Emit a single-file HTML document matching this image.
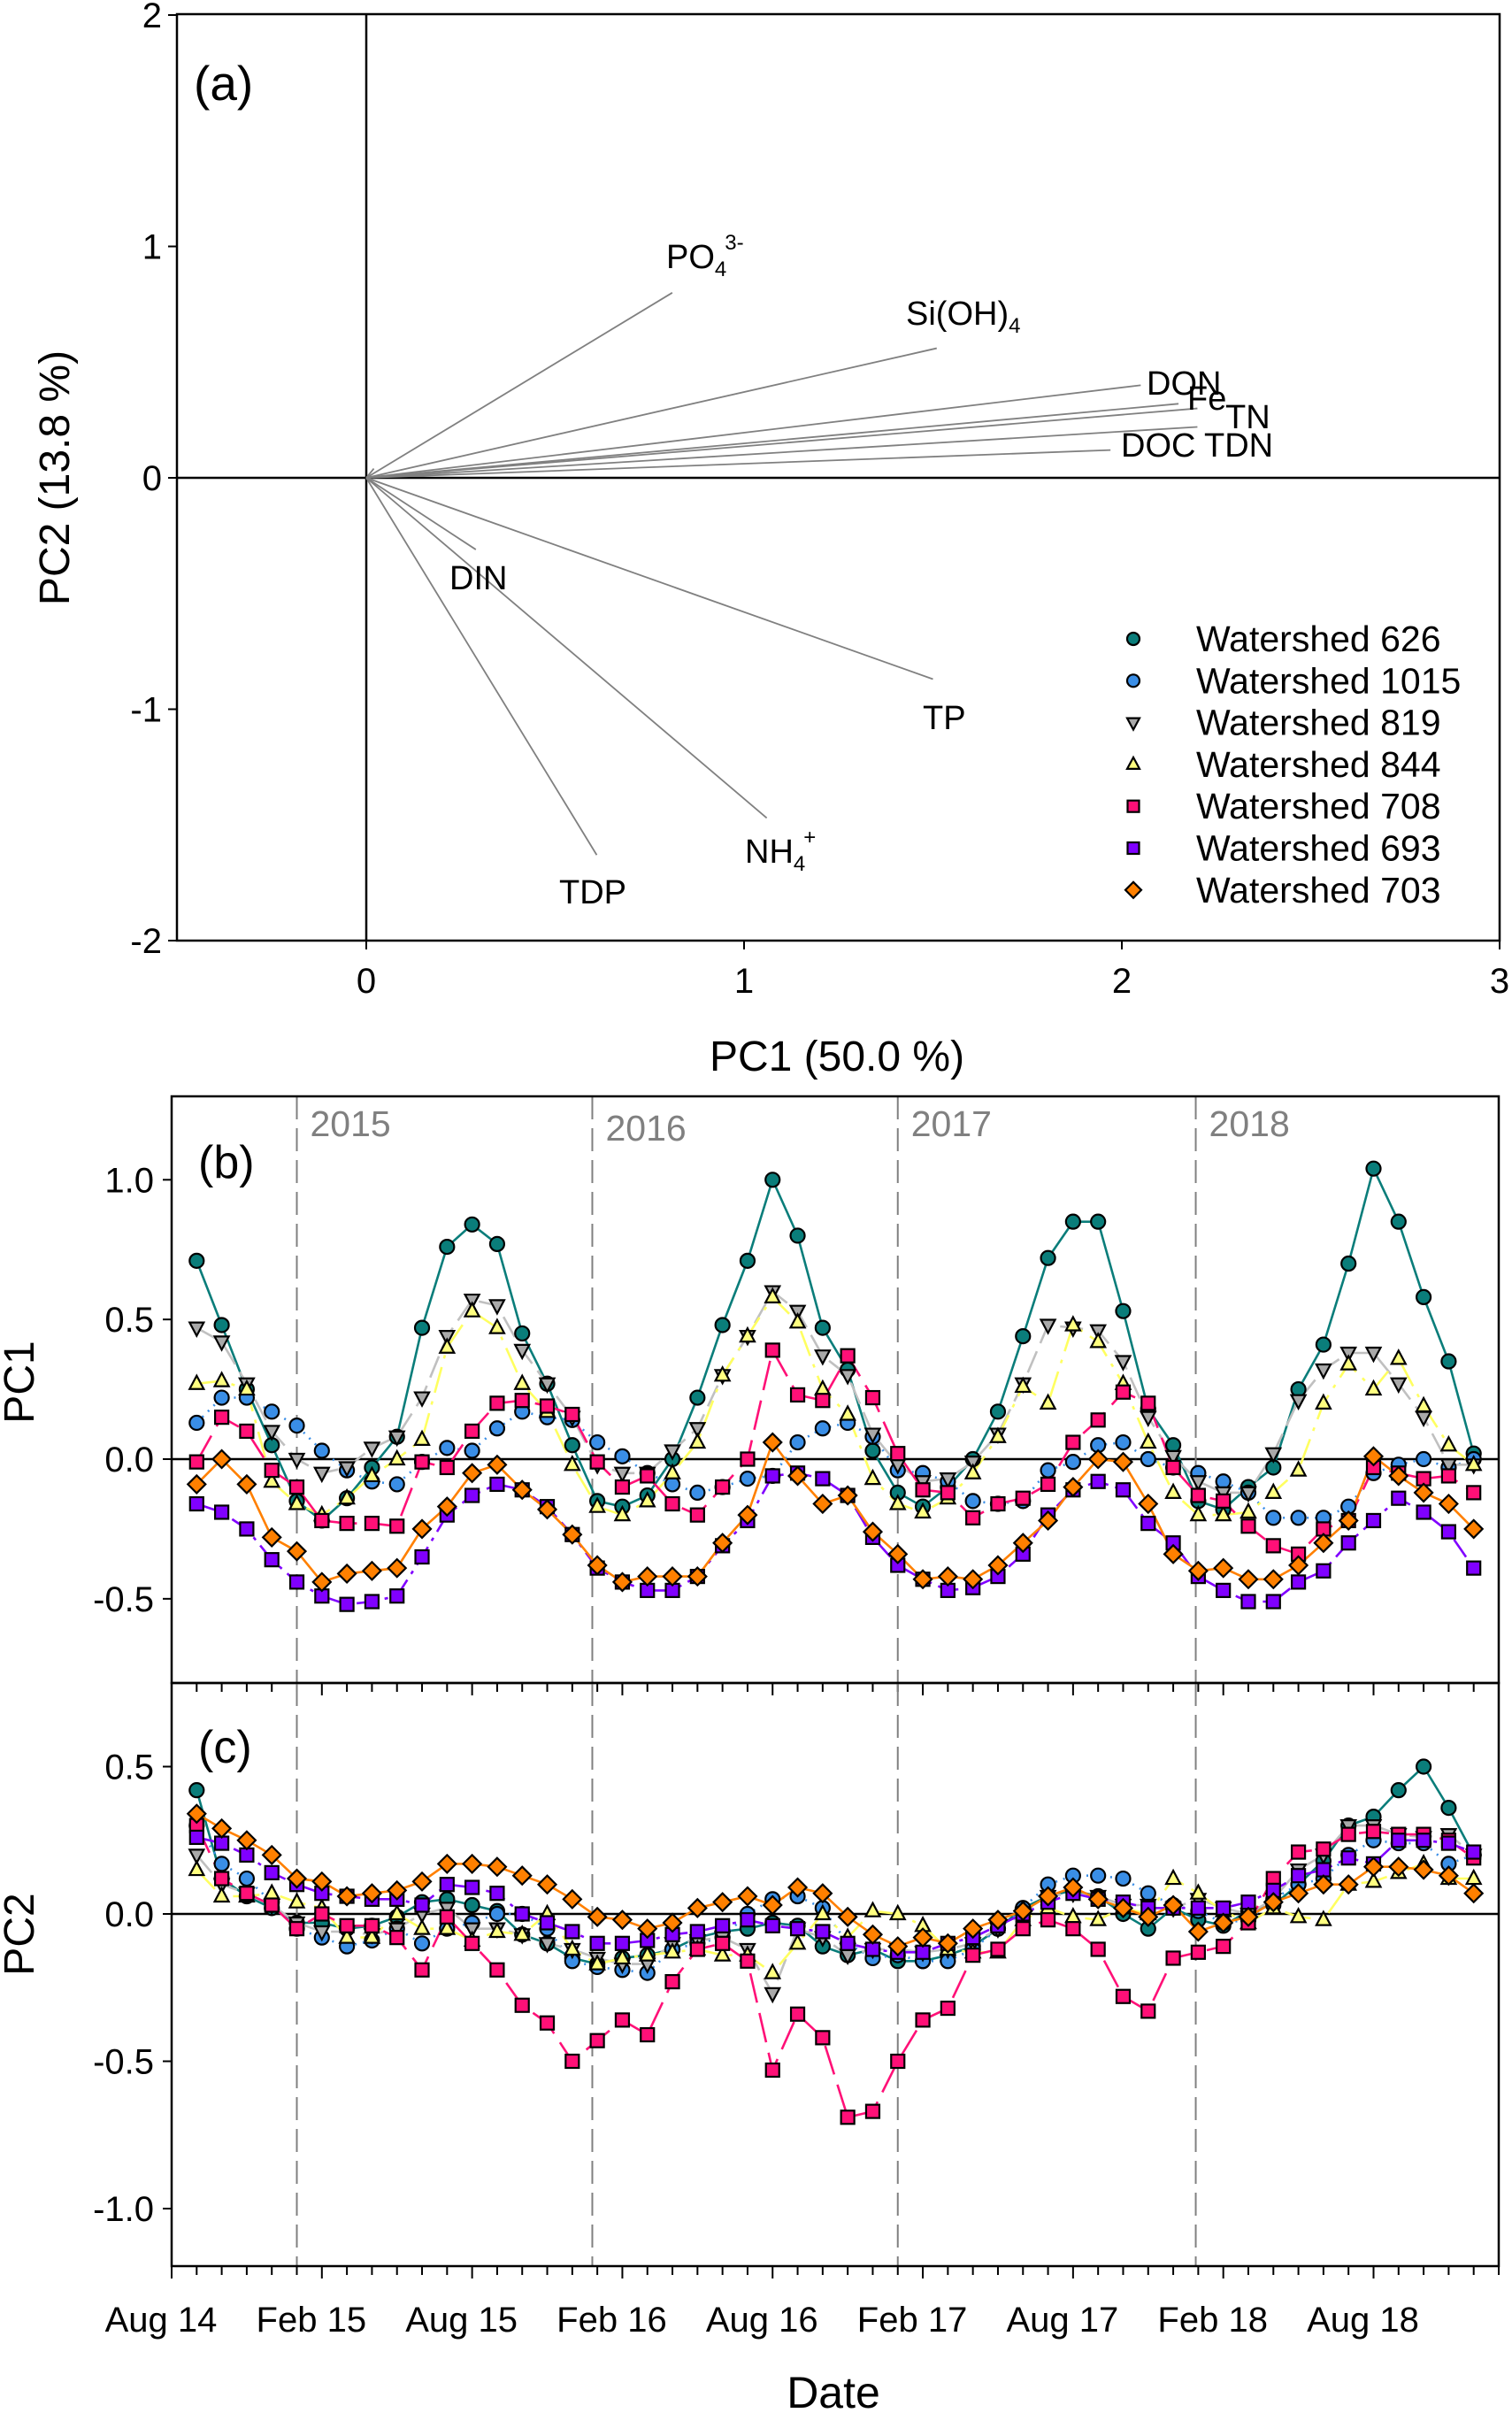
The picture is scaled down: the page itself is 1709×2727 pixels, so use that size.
<!DOCTYPE html>
<html><head><meta charset="utf-8">
<style>
html,body{margin:0;padding:0;background:#fff;}
svg{display:block;font-family:"Liberation Sans",Arial,sans-serif;}
</style></head>
<body>
<svg id="fig" width="1709" height="2727" viewBox="0 0 1709 2727" xmlns="http://www.w3.org/2000/svg"></svg>
<script>
// ---------- Panel (a) data ----------
const vecNames = ["PO4","Si(OH)4","DON","Fe","TN","TDN","DOC","TP","DIN","NH4","TDP"];
const vecPC1 = [0.81,1.51,2.05,2.15,2.2,2.2,1.97,1.50,0.29,1.06,0.61];
const vecPC2 = [0.80,0.56,0.40,0.32,0.30,0.22,0.12,-0.87,-0.31,-1.47,-1.63];
const aXTicks = [0,1,2,3];
const aYTicks = [-2,-1,0,1,2];

// ---------- Panels (b),(c) data: monthly Sep 2014 (index 1) .. Dec 2018 (index 52) ----------
const seriesNames = ["Watershed 626","Watershed 1015","Watershed 819","Watershed 844","Watershed 708","Watershed 693","Watershed 703"];
const pc1_626 = [0.71,0.48,0.25,0.05,-0.15,-0.22,-0.14,-0.03,0.08,0.47,0.76,0.84,0.77,0.45,0.27,0.05,-0.15,-0.17,-0.13,0.0,0.22,0.48,0.71,1.0,0.8,0.47,0.32,0.03,-0.12,-0.17,-0.1,0.0,0.17,0.44,0.72,0.85,0.85,0.53,0.18,0.05,-0.15,-0.18,-0.1,-0.03,0.25,0.41,0.7,1.04,0.85,0.58,0.35,0.02];
const pc1_1015 = [0.13,0.22,0.22,0.17,0.12,0.03,-0.04,-0.08,-0.09,-0.01,0.04,0.03,0.11,0.17,0.15,0.14,0.06,0.01,-0.05,-0.09,-0.12,-0.1,-0.07,-0.06,0.06,0.11,0.13,0.08,-0.04,-0.05,-0.08,-0.15,-0.16,-0.15,-0.04,-0.01,0.05,0.06,0.0,-0.03,-0.05,-0.08,-0.12,-0.21,-0.21,-0.21,-0.17,-0.05,-0.02,0.0,-0.03,0.0];
const pc1_819 = [0.47,0.42,0.27,0.1,0.0,-0.05,-0.03,0.04,0.08,0.22,0.44,0.57,0.55,0.39,0.27,0.15,-0.02,-0.05,-0.05,0.03,0.11,0.3,0.44,0.6,0.53,0.37,0.3,0.09,-0.02,-0.08,-0.07,-0.01,0.09,0.27,0.48,0.47,0.46,0.35,0.15,0.01,-0.08,-0.12,-0.12,0.02,0.21,0.32,0.38,0.38,0.27,0.15,-0.02,-0.02];
const pc1_844 = [0.27,0.28,0.25,-0.08,-0.16,-0.2,-0.14,-0.06,0.0,0.07,0.4,0.53,0.47,0.27,0.17,-0.02,-0.17,-0.2,-0.15,-0.05,0.06,0.3,0.44,0.58,0.49,0.25,0.16,-0.07,-0.16,-0.19,-0.14,-0.05,0.08,0.26,0.2,0.48,0.42,0.27,0.06,-0.12,-0.2,-0.2,-0.19,-0.12,-0.04,0.2,0.34,0.25,0.36,0.19,0.05,-0.02];
const pc1_708 = [-0.01,0.15,0.1,-0.04,-0.1,-0.22,-0.23,-0.23,-0.24,-0.01,-0.03,0.1,0.2,0.21,0.19,0.16,-0.01,-0.1,-0.06,-0.16,-0.2,-0.1,0.0,0.39,0.23,0.21,0.37,0.22,0.02,-0.11,-0.12,-0.21,-0.16,-0.14,-0.09,0.06,0.14,0.24,0.2,-0.03,-0.13,-0.15,-0.24,-0.31,-0.34,-0.25,-0.22,-0.03,-0.05,-0.07,-0.06,-0.12];
const pc1_693 = [-0.16,-0.19,-0.25,-0.36,-0.44,-0.49,-0.52,-0.51,-0.49,-0.35,-0.2,-0.13,-0.09,-0.11,-0.17,-0.27,-0.39,-0.44,-0.47,-0.47,-0.42,-0.31,-0.22,-0.06,-0.05,-0.07,-0.13,-0.28,-0.38,-0.43,-0.47,-0.46,-0.42,-0.34,-0.2,-0.11,-0.08,-0.11,-0.23,-0.3,-0.42,-0.47,-0.51,-0.51,-0.44,-0.4,-0.3,-0.22,-0.14,-0.19,-0.26,-0.39];
const pc1_703 = [-0.09,0.0,-0.09,-0.28,-0.33,-0.44,-0.41,-0.4,-0.39,-0.25,-0.17,-0.05,-0.02,-0.11,-0.18,-0.27,-0.38,-0.44,-0.42,-0.42,-0.42,-0.3,-0.2,0.06,-0.06,-0.16,-0.13,-0.26,-0.34,-0.43,-0.42,-0.43,-0.38,-0.3,-0.22,-0.1,0.0,-0.01,-0.16,-0.34,-0.4,-0.39,-0.43,-0.43,-0.38,-0.3,-0.22,0.01,-0.06,-0.12,-0.16,-0.25];

const pc2_626 = [0.42,0.12,0.06,0.02,-0.03,-0.03,-0.05,-0.04,-0.01,0.04,0.05,0.03,0.01,-0.07,-0.1,-0.15,-0.17,-0.15,-0.14,-0.12,-0.08,-0.06,-0.05,-0.03,-0.04,-0.11,-0.14,-0.12,-0.16,-0.16,-0.14,-0.11,-0.05,0.02,0.06,0.08,0.06,0.0,-0.05,0.02,-0.02,-0.04,0.01,0.03,0.1,0.18,0.3,0.33,0.42,0.5,0.36,0.2];
const pc2_1015 = [0.3,0.17,0.12,0.04,-0.05,-0.08,-0.11,-0.09,-0.05,-0.1,-0.05,-0.03,0.0,0.0,-0.05,-0.16,-0.18,-0.19,-0.2,-0.12,-0.1,-0.08,0.0,0.05,0.06,0.02,-0.1,-0.15,-0.14,-0.16,-0.16,-0.12,-0.05,0.02,0.1,0.13,0.13,0.12,0.07,0.03,0.01,-0.03,-0.02,0.05,0.1,0.12,0.2,0.25,0.24,0.24,0.17,0.2];
const pc2_819 = [0.2,0.1,0.07,0.03,-0.03,-0.06,-0.06,-0.07,-0.05,0.0,0.02,-0.05,-0.05,-0.07,-0.1,-0.12,-0.15,-0.17,-0.17,-0.1,-0.09,-0.08,-0.12,-0.27,-0.05,-0.08,-0.14,-0.12,-0.12,-0.13,-0.12,-0.1,-0.05,0.0,0.06,0.07,0.06,0.03,0.03,0.02,0.05,0.02,0.0,0.05,0.15,0.2,0.3,0.3,0.27,0.26,0.27,0.2];
const pc2_844 = [0.15,0.06,0.06,0.07,0.04,0.02,-0.08,-0.08,0.0,-0.05,-0.05,-0.09,-0.06,-0.07,0.0,-0.12,-0.17,-0.15,-0.14,-0.13,-0.12,-0.14,-0.14,-0.2,-0.1,0.0,-0.08,0.01,0.0,-0.04,-0.12,-0.13,-0.13,-0.02,0.02,-0.01,-0.02,0.02,0.0,0.12,0.07,0.01,-0.03,0.02,-0.01,-0.02,0.1,0.11,0.14,0.17,0.12,0.12];
const pc2_708 = [0.3,0.12,0.07,0.03,-0.05,0.0,-0.04,-0.04,-0.08,-0.19,-0.01,-0.1,-0.19,-0.31,-0.37,-0.5,-0.43,-0.36,-0.41,-0.23,-0.12,-0.1,-0.16,-0.53,-0.34,-0.42,-0.69,-0.67,-0.5,-0.36,-0.32,-0.14,-0.12,-0.05,-0.02,-0.05,-0.12,-0.28,-0.33,-0.15,-0.13,-0.11,-0.03,0.12,0.21,0.22,0.27,0.28,0.27,0.27,0.25,0.19];
const pc2_693 = [0.26,0.24,0.2,0.14,0.1,0.07,0.06,0.05,0.05,0.03,0.1,0.09,0.07,0.0,-0.03,-0.06,-0.1,-0.1,-0.09,-0.07,-0.06,-0.04,-0.02,-0.04,-0.05,-0.06,-0.1,-0.12,-0.13,-0.13,-0.1,-0.08,-0.04,0.0,0.04,0.07,0.05,0.04,0.02,0.02,0.02,0.02,0.04,0.08,0.13,0.15,0.19,0.17,0.25,0.25,0.24,0.21];
const pc2_703 = [0.34,0.29,0.25,0.2,0.12,0.11,0.06,0.07,0.08,0.11,0.17,0.17,0.16,0.13,0.1,0.05,-0.01,-0.02,-0.05,-0.03,0.02,0.04,0.06,0.03,0.09,0.07,-0.01,-0.07,-0.11,-0.08,-0.1,-0.05,-0.02,0.01,0.06,0.09,0.05,0.02,-0.01,0.03,-0.06,-0.03,-0.01,0.04,0.07,0.1,0.1,0.16,0.16,0.15,0.13,0.07];

const bTicks = [-0.5,0.0,0.5,1.0];
const cTicks = [-1.0,-0.5,0.0,0.5];
const dateLabels = ["Aug 14","Feb 15","Aug 15","Feb 16","Aug 16","Feb 17","Aug 17","Feb 18","Aug 18"];
const yearLabels = ["2015","2016","2017","2018"];
const yearLinePos = [5,16.8,29,40.9];

// ---------- helpers ----------
const NS="http://www.w3.org/2000/svg";
const svg=document.getElementById('fig');
function mk(tag,attrs,parent){const e=document.createElementNS(NS,tag);for(const k in attrs)e.setAttribute(k,attrs[k]);(parent||svg).appendChild(e);return e;}
function txt(s,attrs,parent){const e=mk('text',attrs,parent);e.textContent=s;return e;}

// ================= Panel (a) =================
const A={l:200,r:1695,t:16,b:1063};
const ax=v=>414+v*427;
const ay=v=>540-v*261.5;
const gA=mk('g',{});


mk('line',{x1:A.l,y1:ay(0),x2:A.r,y2:ay(0),stroke:'#000','stroke-width':2.5},gA);
mk('line',{x1:ax(0),y1:A.t,x2:ax(0),y2:A.b,stroke:'#000','stroke-width':2.5},gA);
mk('line',{x1:ax(0),y1:ay(0),x2:ax(0.02),y2:ay(0.04),stroke:'#808080','stroke-width':1.8},gA);
for(let i=0;i<vecNames.length;i++){
  const l=mk('line',{x1:ax(0),y1:ay(0),x2:ax(vecPC1[i]),y2:ay(vecPC2[i]),stroke:'#808080','stroke-width':1.8},gA);
  
  
}
mk('rect',{x:A.l,y:A.t,width:A.r-A.l,height:A.b-A.t,fill:'none',stroke:'#000','stroke-width':2.5},gA);
aXTicks.forEach(v=>{
  mk('line',{x1:ax(v),y1:A.b,x2:ax(v),y2:A.b+10,stroke:'#000','stroke-width':2},gA);
  const t=txt(String(v),{x:ax(v),y:A.b+59,'font-size':40,'text-anchor':'middle'},gA);
  
  
});
aYTicks.forEach(v=>{
  mk('line',{x1:A.l-10,y1:ay(v),x2:A.l,y2:ay(v),stroke:'#000','stroke-width':2},gA);
  const t=txt(String(v),{x:A.l-17,y:ay(v)+14,'font-size':40,'text-anchor':'end'},gA);
  
  
});
const aLbl=[
 ['PO',753,303,'4','3-'],['Si(OH)',1024,367,'4',''],['DON',1296,446,'',''],['Fe',1342,463,'',''],
 ['TN',1385,484,'',''],['DOC',1267,516,'',''],['TDN',1361,516,'',''],['DIN',508,666,'',''],
 ['TP',1043,824,'',''],['NH',842,975,'4','+'],['TDP',632,1021,'','']
];
aLbl.forEach(d=>{
  const t=mk('text',{x:d[1],y:d[2],'font-size':38},gA);
  
  
  t.appendChild(document.createTextNode(d[0]));
  if(d[3]){const s=mk('tspan',{'font-size':24,dy:9},t);s.textContent=d[3];}
  if(d[4]){const s=mk('tspan',{'font-size':24,dy:-30,dx:d[3]?-2:0},t);s.textContent=d[4];}
});
const aTag=txt('(a)',{x:219,y:113,'font-size':55},gA);


const xt=txt('PC1 (50.0 %)',{x:946,y:1210,'font-size':48,'text-anchor':'middle'},gA);


const yt=txt('PC2 (13.8 %)',{x:0,y:0,'font-size':48,'text-anchor':'middle',transform:'translate(78,540) rotate(-90)'},gA);



// ---------- marker styles ----------
const styles=[
 {fill:'#0a7d7a',line:'#0a7d7a',dash:'',shape:'circle'},
 {fill:'#3a8ee6',line:'#3a8ee6',dash:'2 7',shape:'circle'},
 {fill:'#a9a9a9',line:'#c0c0c0',dash:'26 10',shape:'tdown'},
 {fill:'#ffff80',line:'#ffff60',dash:'30 10 4 10',shape:'tup'},
 {fill:'#ff1077',line:'#ff1077',dash:'34 12',shape:'square'},
 {fill:'#8000ff',line:'#8000ff',dash:'24 8 4 8',shape:'square'},
 {fill:'#ff8000',line:'#ff8000',dash:'',shape:'diamond'}
];
function marker(shape,x,y,fill,parent,r){
  r=r||8;
  const st={fill:fill,stroke:'#000','stroke-width':2.2};
  let e;
  if(shape==='circle') e=mk('circle',Object.assign({cx:x,cy:y,r:r},st),parent);
  else if(shape==='square') e=mk('rect',Object.assign({x:x-r+0.5,y:y-r+0.5,width:2*r-1,height:2*r-1},st),parent);
  else if(shape==='diamond') e=mk('polygon',Object.assign({points:`${x},${y-r-2} ${x+r+2},${y} ${x},${y+r+2} ${x-r-2},${y}`},st),parent);
  else if(shape==='tup') e=mk('polygon',Object.assign({points:`${x},${y-r-1} ${x+r},${y+r-2} ${x-r},${y+r-2}`},st),parent);
  else e=mk('polygon',Object.assign({points:`${x},${y+r+1} ${x+r},${y-r+2} ${x-r},${y-r+2}`},st),parent);
  return e;
}

// legend
const gL=mk('g',{});


seriesNames.forEach((n,i)=>{
  const y=722+i*47.3;
  const m=marker(styles[i].shape,1281,y,styles[i].fill,gL,7);
  
  
  const t=txt(n,{x:1352,y:y+14,'font-size':41},gL);
  
  
});

// ================= Panels (b),(c) =================
const L=194,R=1694;
const mx=i=>L+i*(R-L)/53;
const B={t:1239,b:1902,y0:1649,u:315.7};
const C={t:1902,b:2561,y0:2163,u:333};
const byb=v=>B.y0-v*B.u;
const byc=v=>C.y0-v*C.u;
const defs=mk('defs',{});
const cpb=mk('clipPath',{id:'cb'},defs);mk('rect',{x:L,y:B.t,width:R-L,height:B.b-B.t},cpb);
const cpc=mk('clipPath',{id:'cc'},defs);mk('rect',{x:L,y:C.t,width:R-L,height:C.b-C.t},cpc);

function panel(P,fy,data,ticks,tag,name,clip){
  const g=mk('g',{});
  
  
  mk('line',{x1:L,y1:fy(0),x2:R,y2:fy(0),stroke:'#000','stroke-width':2.5},g);
  yearLinePos.forEach(m=>{
    mk('line',{x1:mx(m),y1:P.t,x2:mx(m),y2:P.b,stroke:'#808080','stroke-width':2,'stroke-dasharray':'26 10'},g);
  });
  const gd=mk('g',{'clip-path':'url(#'+clip+')'},g);
  data.forEach((arr,s)=>{
    const pts=arr.map((v,i)=>mx(i+1).toFixed(1)+','+fy(v).toFixed(1)).join(' ');
    const pl=mk('polyline',{points:pts,fill:'none',stroke:styles[s].line,'stroke-width':2.6,'stroke-dasharray':styles[s].dash},gd);
    
    
  });
  data.forEach((arr,s)=>{
    arr.forEach((v,i)=>{
      const m=marker(styles[s].shape,mx(i+1),fy(v),styles[s].fill,gd);
      
      
    });
  });
  mk('rect',{x:L,y:P.t,width:R-L,height:P.b-P.t,fill:'none',stroke:'#000','stroke-width':2.5},g);
  ticks.forEach(v=>{
    mk('line',{x1:L-10,y1:fy(v),x2:L,y2:fy(v),stroke:'#000','stroke-width':2},g);
    const t=txt(v.toFixed(1),{x:L-20,y:fy(v)+14,'font-size':40,'text-anchor':'end'},g);
    
    
  });
  for(let m=0;m<=53;m++){
    const len=(m%6===0)?14:10;
    mk('line',{x1:mx(m),y1:P.b,x2:mx(m),y2:P.b+len,stroke:'#000','stroke-width':2},g);
  }
  const t=txt(tag,{x:224,y:P===B?1331:1992,'font-size':52},g);
  
  
  return g;
}
panel(B,byb,[pc1_626,pc1_1015,pc1_819,pc1_844,pc1_708,pc1_693,pc1_703],bTicks,'(b)','panel-b-pc1-timeseries','cb');
panel(C,byc,[pc2_626,pc2_1015,pc2_819,pc2_844,pc2_708,pc2_693,pc2_703],cTicks,'(c)','panel-c-pc2-timeseries','cc');

yearLabels.forEach((y,i)=>{
  const t=txt(y,{x:mx(yearLinePos[i])+15,y:i===1?1289:1284,'font-size':41,fill:'#808080'});
  
  
});
dateLabels.forEach((d,i)=>{
  const t=txt(d,{x:mx(i*6)-12,y:2635,'font-size':40,'text-anchor':'middle'});
  
  
});
const dt=txt('Date',{x:942,y:2721,'font-size':50,'text-anchor':'middle'});


const p1=txt('PC1',{x:0,y:0,'font-size':48,'text-anchor':'middle',transform:'translate(38,1562) rotate(-90)'});


const p2=txt('PC2',{x:0,y:0,'font-size':48,'text-anchor':'middle',transform:'translate(38,2186) rotate(-90)'});


</script>
</body></html>
